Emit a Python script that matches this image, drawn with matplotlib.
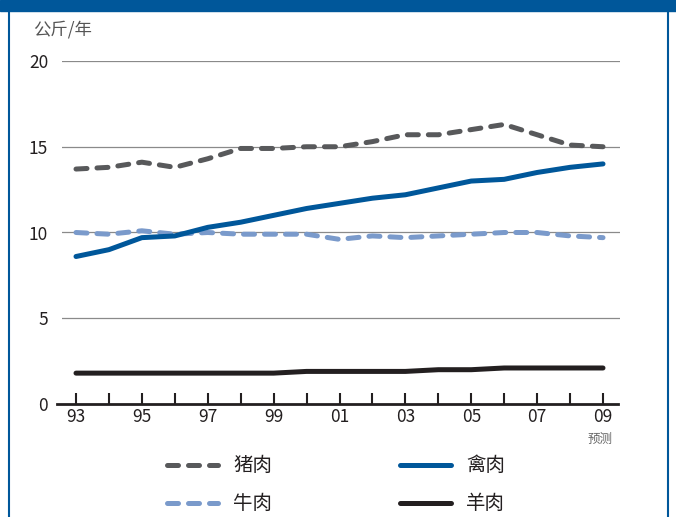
import numpy as np
import matplotlib.pyplot as plt
from matplotlib.patches import Rectangle
from matplotlib.lines import Line2D

plt.rcParams['font.family'] = ['Noto Sans CJK SC', 'DejaVu Sans']

years = np.arange(1993, 2010)
tick_labels = ['93', '95', '97', '99', '01', '03', '05', '07', '09']
pork = [13.7, 13.8, 14.1, 13.8, 14.3, 14.9, 14.9, 15.0, 15.0, 15.3, 15.7, 15.7, 16.0, 16.3, 15.7, 15.1, 15.0]
poultry = [8.6, 9.0, 9.7, 9.8, 10.3, 10.6, 11.0, 11.4, 11.7, 12.0, 12.2, 12.6, 13.0, 13.1, 13.5, 13.8, 14.0]
beef = [10.0, 9.9, 10.1, 9.9, 10.0, 9.9, 9.9, 9.9, 9.6, 9.8, 9.7, 9.8, 9.9, 10.0, 10.0, 9.8, 9.7]
mutton = [1.8, 1.8, 1.8, 1.8, 1.8, 1.8, 1.8, 1.9, 1.9, 1.9, 1.9, 2.0, 2.0, 2.1, 2.1, 2.1, 2.1]

W, H = 676, 517
fig = plt.figure(figsize=(W / 100, H / 100), dpi=100)

# frame: blue band at top and thin side borders
blue = '#00579a'
fig.patches.append(Rectangle((0, 1 - 11 / H), 1, 11 / H, transform=fig.transFigure,
                             color=blue, zorder=0))
fig.add_artist(Line2D([9 / W, 9 / W], [0, 1], color=blue, lw=1.5, transform=fig.transFigure))
fig.add_artist(Line2D([668 / W, 668 / W], [0, 1], color=blue, lw=1.5, transform=fig.transFigure))

ax = fig.add_axes([62 / W, 1 - 404 / H, 558 / W, 343 / H])
ax.set_xlim(1993 - 14 / 32.94, 2009 + 17 / 32.94)
ax.set_ylim(0, 20)

lw = 3.6
dash = (0, (2.2, 2.0))
ax.plot(years, pork, color='#58595b', lw=lw, ls=dash, dash_capstyle='round', zorder=3)
ax.plot(years, beef, color='#7a9acb', lw=lw, ls=dash, dash_capstyle='round', zorder=3)
ax.plot(years, poultry, color=blue, lw=lw, solid_capstyle='round', zorder=4)
ax.plot(years, mutton, color='#231f20', lw=lw, solid_capstyle='round', zorder=4)

for v in [5, 10, 15, 20]:
    ax.axhline(v, color='#8a8a8a', lw=0.9, zorder=1)

for s in ['top', 'right', 'left']:
    ax.spines[s].set_visible(False)
ax.spines['bottom'].set_color('#231f20')
ax.spines['bottom'].set_linewidth(2)
ax.spines['bottom'].set_bounds(1993 - 19 / 32.94, 2009 + 15 / 32.94)

ax.set_xticks(years[::2])
ax.set_xticks(years, minor=True)
ax.set_xticklabels(tick_labels)
ax.tick_params(axis='x', which='both', direction='in', length=8, width=1.5,
               color='#231f20', labelsize=12.5, labelcolor='#231f20', pad=3)
ax.set_yticks([0, 5, 10, 15, 20])
ax.tick_params(axis='y', length=0, labelsize=12.5, labelcolor='#231f20', pad=10)

fig.text(33 / W, 1 - 30 / H, '公斤/年', fontsize=12.5, color='#555555', va='center', ha='left')
fig.text(600 / W, 1 - 439 / H, '预测', fontsize=9, color='#666666', va='center', ha='center')

# legend
legend_items = [('猪肉', '#58595b', dash, 167, 465), ('禽肉', blue, '-', 400, 465),
                ('牛肉', '#7a9acb', dash, 167, 503), ('羊肉', '#231f20', '-', 400, 503)]
for label, c, style, x0, y0 in legend_items:
    yy = 1 - y0 / H
    fig.add_artist(Line2D([x0 / W, (x0 + 51) / W], [yy, yy], color=c, lw=lw, ls=style,
                          dash_capstyle='round', solid_capstyle='round',
                          transform=fig.transFigure))
    fig.text((x0 + 66) / W, yy, label, fontsize=14, color='#231f20', va='center', ha='left')

fig.savefig('out.png', dpi=100, facecolor='white')
